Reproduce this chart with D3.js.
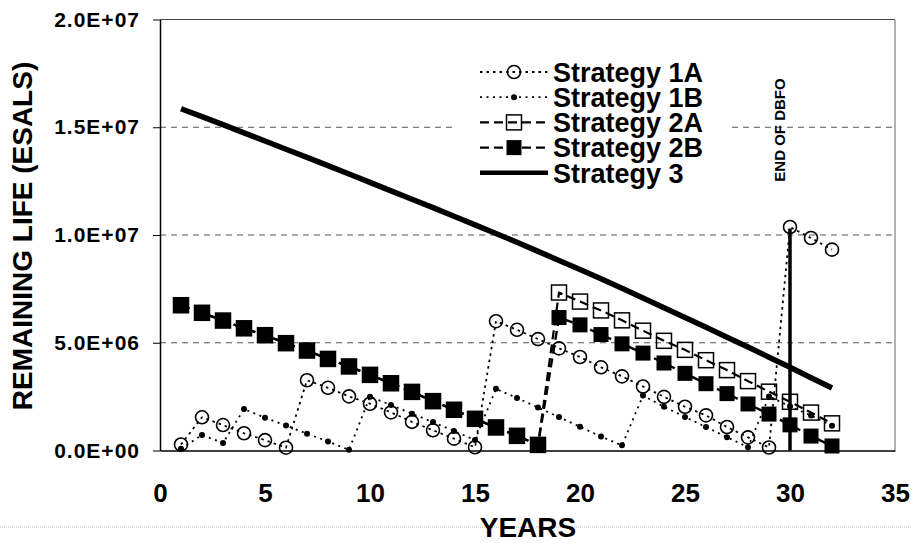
<!DOCTYPE html>
<html>
<head>
<meta charset="utf-8">
<script src="https://cdn.jsdelivr.net/npm/d3@7"></script>
<style>
  html, body { margin: 0; padding: 0; background: #fff; }
  svg { display: block; }
  text { font-family: "Liberation Sans", Arial, sans-serif; font-weight: bold; fill: #000; }
</style>
</head>
<body>
<svg id="chart" width="912" height="543"></svg>
<script>
// Remaining life (millions of ESALs) for each maintenance strategy, by year
const years = [1,2,3,4,5,6,7,8,9,10,11,12,13,14,15,16,17,18,19,20,21,22,23,24,25,26,27,28,29,30,31,32];

const strategy1A = [0.28,1.54,1.18,0.80,0.48,0.13,3.26,2.91,2.51,2.17,1.77,1.33,0.94,0.55,0.15,6.00,
                    5.60,5.17,4.74,4.34,3.86,3.44,2.97,2.49,2.03,1.63,1.09,0.61,0.14,10.37,9.86,9.32];
const strategy1B = [0.08,0.72,0.35,1.92,1.52,1.16,0.78,0.42,0.03,2.50,2.11,1.71,1.32,0.90,0.49,2.86,
                    2.44,1.99,1.55,1.10,0.65,0.24,2.55,2.03,1.56,1.09,0.62,0.15,2.51,2.05,1.62,1.15];
const strategy2A = [6.74,6.39,6.03,5.67,5.35,4.98,4.64,4.25,3.90,3.51,3.12,2.72,2.29,1.89,1.47,1.07,
                    0.68,0.26,7.33,6.91,6.50,6.04,5.56,5.09,4.67,4.19,3.73,3.22,2.73,2.26,1.76,1.26];
const strategy2B = [6.74,6.39,6.03,5.67,5.35,4.98,4.64,4.25,3.90,3.51,3.12,2.72,2.29,1.89,1.47,1.07,
                    0.68,0.26,6.17,5.83,5.38,4.95,4.52,4.06,3.58,3.10,2.64,2.16,1.69,1.19,0.67,0.21];
const strategy3  = [15.86,15.49,15.12,14.74,14.36,13.98,13.60,13.22,12.83,12.44,12.05,11.66,11.27,10.87,10.47,10.07,
                    9.66,9.24,8.82,8.40,7.97,7.53,7.08,6.62,6.17,5.72,5.26,4.80,4.33,3.86,3.38,2.90];

// End of the DBFO contract period
const dbfoYear = [30, 30];
const dbfoLife = [0, 10.3];

const seriesNames = ["Strategy 1A", "Strategy 1B", "Strategy 2A", "Strategy 2B", "Strategy 3"];
const xTicks = [0, 5, 10, 15, 20, 25, 30, 35];
const yTicks = [0, 5, 10, 15, 20];          // millions of ESALs
const xTitle = "YEARS";
const yTitle = "REMAINING LIFE (ESALS)";
const markerText = "END OF DBFO";

// ---------------------------------------------------------------
const svg = d3.select("#chart");
const plotLeft = 160, plotRight = 895, plotTop = 19.5, plotBottom = 450.5;

const x = d3.scaleLinear().domain([0, 35]).range([plotLeft, plotRight]);
const y = d3.scaleLinear().domain([0, 20]).range([plotBottom, plotTop]);

// Scientific labels such as 1.5E+07
function sci(m) {
  const v = m * 1e6;
  if (v === 0) return "0.0E+00";
  const e = Math.floor(Math.log10(v));
  const mant = v / Math.pow(10, e);
  return mant.toFixed(1) + "E+" + String(e).padStart(2, "0");
}

// Gridlines
svg.append("g")
  .selectAll("line")
  .data(yTicks.filter(t => t > 0 && t < 20))
  .join("line")
  .attr("x1", plotLeft).attr("x2", plotRight)
  .attr("y1", d => y(d)).attr("y2", d => y(d))
  .attr("stroke", "#555").attr("stroke-width", 1)
  .attr("stroke-dasharray", "6,5");

// Plot frame (top / right)
svg.append("line").attr("x1", plotLeft).attr("x2", plotRight).attr("y1", plotTop).attr("y2", plotTop)
  .attr("stroke", "#444").attr("stroke-width", 1);
svg.append("line").attr("x1", plotRight).attr("x2", plotRight).attr("y1", plotTop).attr("y2", plotBottom)
  .attr("stroke", "#666").attr("stroke-width", 1);

// Y axis
const yAxis = svg.append("g")
  .attr("transform", `translate(${plotLeft},0)`)
  .call(d3.axisLeft(y).tickValues(yTicks).tickFormat(sci).tickSize(7).tickSizeOuter(0).tickPadding(13));
yAxis.select(".domain").attr("stroke", "#000").attr("stroke-width", 1.5);
yAxis.selectAll(".tick line").attr("stroke", "#000");
yAxis.selectAll("text").style("font-size", "21px").style("letter-spacing", "1px");

// X axis
const xAxis = svg.append("g")
  .attr("transform", `translate(0,${plotBottom})`)
  .call(d3.axisBottom(x).tickValues(xTicks).tickSize(0).tickSizeOuter(0).tickPadding(33));
xAxis.select(".domain").attr("stroke", "#000").attr("stroke-width", 1.5);
xAxis.selectAll("text").style("font-size", "26px");

// Axis titles
svg.append("text")
  .attr("transform", "translate(32,236) rotate(-90)")
  .attr("text-anchor", "middle")
  .style("font-size", "28px")
  .text(yTitle);

svg.append("line").attr("x1", 0).attr("x2", 912).attr("y1", 527).attr("y2", 527)
  .attr("stroke", "#b5b5b5").attr("stroke-width", 1).attr("stroke-dasharray", "1,1");

svg.append("text")
  .attr("x", 528).attr("y", 537)
  .attr("text-anchor", "middle")
  .style("font-size", "28px")
  .text(xTitle);

// Legend background
svg.append("rect").attr("x", 457).attr("y", 48).attr("width", 275).attr("height", 140).attr("fill", "#fff");

// Series drawing
const styles = [
  { vals: strategy1A, dash: "2.5,4", width: 1.8, marker: "circle" },
  { vals: strategy1B, dash: "2,4.5", width: 1.8, marker: "dot" },
  { vals: strategy2A, dash: "9,5", width: 2.2, marker: "openSquare" },
  { vals: strategy2B, dash: "9,5", width: 2.4, marker: "square" },
  { vals: strategy3,  dash: null, width: 5.5, marker: null }
];

const line = d3.line().x(d => x(d[0])).y(d => y(d[1]));

function drawMarker(g, type, cx, cy) {
  if (type === "circle") {
    g.append("circle").attr("cx", cx).attr("cy", cy).attr("r", 6.5)
      .attr("fill", "none").attr("stroke", "#000").attr("stroke-width", 1.6);
  } else if (type === "dot") {
    g.append("circle").attr("cx", cx).attr("cy", cy).attr("r", 3).attr("fill", "#000");
  } else if (type === "openSquare") {
    g.append("rect").attr("x", cx - 7.5).attr("y", cy - 7.5).attr("width", 15).attr("height", 15)
      .attr("fill", "none").attr("stroke", "#000").attr("stroke-width", 1.5);
  } else if (type === "square") {
    g.append("rect").attr("x", cx - 7.5).attr("y", cy - 7.5).attr("width", 15).attr("height", 15)
      .attr("fill", "#000");
  }
}

styles.forEach(s => {
  const pts = years.map((yr, i) => [yr, s.vals[i]]);
  const g = svg.append("g");
  g.append("path").attr("d", line(pts))
    .attr("fill", "none").attr("stroke", "#000")
    .attr("stroke-width", s.width)
    .attr("stroke-dasharray", s.dash)
    .attr("stroke-linejoin", "round");
  if (s.marker) pts.forEach(p => drawMarker(g, s.marker, x(p[0]), y(p[1])));
});

// End of DBFO marker line and label
svg.append("line")
  .attr("x1", x(dbfoYear[0])).attr("x2", x(dbfoYear[1]))
  .attr("y1", y(dbfoLife[0])).attr("y2", y(dbfoLife[1]))
  .attr("stroke", "#000").attr("stroke-width", 3.5);
svg.append("text")
  .attr("transform", `translate(${x(dbfoYear[0]) - 5},130) rotate(-90)`)
  .attr("text-anchor", "middle")
  .style("font-size", "15px")
  .text(markerText);

// Legend
const lg = svg.append("g");
seriesNames.forEach((name, i) => {
  const cy = 72 + i * 25.2;
  const s = styles[i];
  lg.append("line").attr("x1", 480).attr("x2", 548).attr("y1", cy).attr("y2", cy)
    .attr("stroke", "#000").attr("stroke-width", i === 4 ? 4.5 : s.width)
    .attr("stroke-dasharray", s.dash);
  if (s.marker) drawMarker(lg, s.marker, 514, cy);
  lg.append("text").attr("x", 553).attr("y", cy).attr("dy", "0.36em")
    .style("font-size", "27px").text(name);
});
</script>
</body>
</html>
